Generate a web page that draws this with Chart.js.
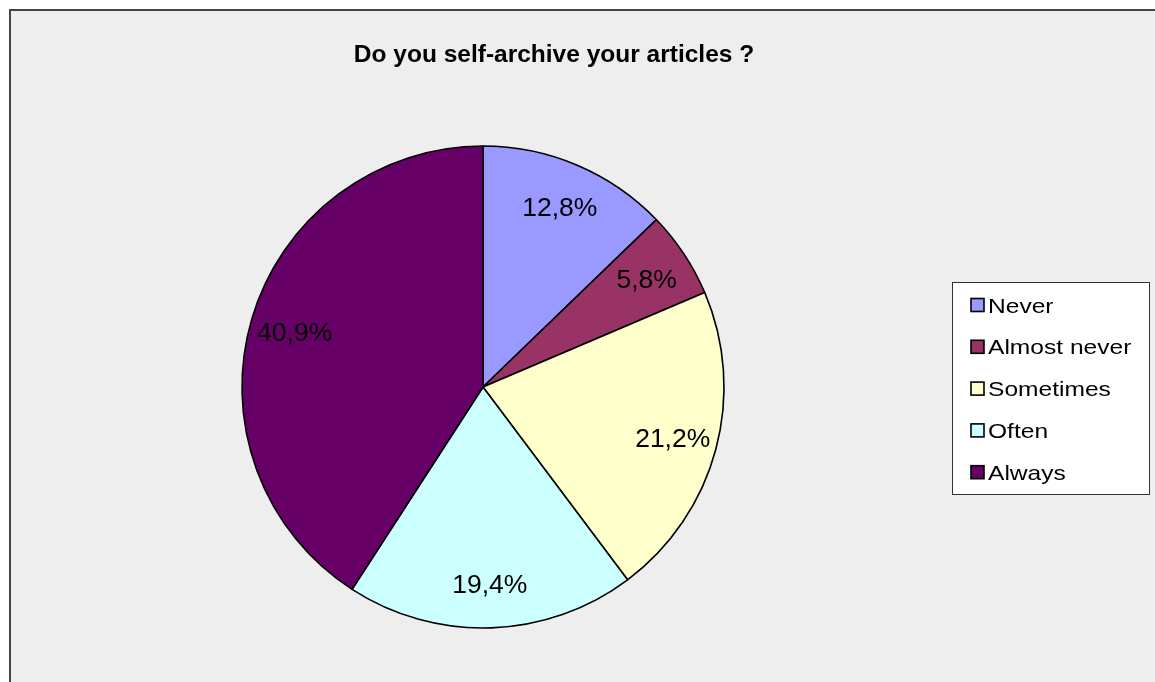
<!DOCTYPE html>
<html>
<head>
<meta charset="utf-8">
<title>Do you self-archive your articles ?</title>
<script src="https://cdn.jsdelivr.net/npm/chart.js@4/dist/chart.umd.min.js"></script>
<style>
  html, body { margin: 0; padding: 0; background: #ffffff; }
  #wrap { width: 1155px; height: 682px; position: relative; }
  canvas { display: block; }
</style>
</head>
<body>
<div id="wrap"><canvas id="pie" width="1155" height="682"></canvas></div>
<script>
// Survey answers (% of respondents)
const categories = ['Never', 'Almost never', 'Sometimes', 'Often', 'Always'];
const shares = [12.8, 5.8, 21.2, 19.4, 40.9];
const sliceColors = ['#9999ff', '#993366', '#ffffcc', '#ccffff', '#660066'];
const chartTitle = 'Do you self-archive your articles ?';

const FONT = '"Liberation Sans", Arial, Helvetica, sans-serif';

function pctText(v) {
  return v.toFixed(1).replace('.', ',') + '%';
}

// Grey panel with a dark frame on the top and left edges
const panelBackground = {
  id: 'panelBackground',
  beforeDraw(chart) {
    const ctx = chart.ctx;
    ctx.save();
    ctx.fillStyle = '#ffffff';
    ctx.fillRect(0, 0, chart.width, chart.height);
    ctx.fillStyle = '#eeeeee';
    ctx.fillRect(10, 10, chart.width - 10, chart.height - 10);
    ctx.strokeStyle = '#444444';
    ctx.lineWidth = 2;
    ctx.beginPath();
    ctx.moveTo(10, chart.height);
    ctx.lineTo(10, 10);
    ctx.lineTo(chart.width, 10);
    ctx.stroke();
    ctx.restore();
  }
};

// Percentage labels placed inside each slice
const sliceLabels = {
  id: 'sliceLabels',
  afterDatasetsDraw(chart) {
    const ctx = chart.ctx;
    const meta = chart.getDatasetMeta(0);
    const values = chart.data.datasets[0].data;
    ctx.save();
    ctx.font = '26.5px ' + FONT;
    ctx.fillStyle = '#000000';
    ctx.textAlign = 'center';
    ctx.textBaseline = 'alphabetic';
    meta.data.forEach((arc, i) => {
      const p = arc.getProps(['x', 'y', 'startAngle', 'endAngle', 'outerRadius'], true);
      const mid = (p.startAngle + p.endAngle) / 2;
      const r = p.outerRadius * 0.815;
      const x = p.x + Math.cos(mid) * r;
      const y = p.y + Math.sin(mid) * r;
      ctx.fillText(pctText(values[i]), x, y + 9.5);
    });
    ctx.restore();
  }
};

// Title and boxed legend on the right
const titleAndLegend = {
  id: 'titleAndLegend',
  afterDraw(chart) {
    const ctx = chart.ctx;
    ctx.save();
    ctx.fillStyle = '#000000';
    ctx.font = 'bold 24.5px ' + FONT;
    ctx.textAlign = 'center';
    ctx.textBaseline = 'alphabetic';
    ctx.fillText(chartTitle, 554, 62);

    // legend box
    const bx = 952, by = 282, bw = 197, bh = 212;
    ctx.fillStyle = '#ffffff';
    ctx.fillRect(bx, by, bw, bh);
    ctx.strokeStyle = '#333333';
    ctx.lineWidth = 1;
    ctx.strokeRect(bx + 0.5, by + 0.5, bw, bh);

    const colors = chart.data.datasets[0].backgroundColor;
    ctx.textAlign = 'left';
    chart.data.labels.forEach((label, i) => {
      const cy = 305 + i * 41.8;
      ctx.fillStyle = colors[i];
      ctx.fillRect(971, cy - 6.5, 13, 13);
      ctx.strokeStyle = '#000000';
      ctx.lineWidth = 1.6;
      ctx.strokeRect(971, cy - 6.5, 13, 13);
      // legend text is drawn slightly widened
      ctx.save();
      ctx.translate(988, cy + 7.5);
      ctx.scale(1.17, 1);
      ctx.font = '21px ' + FONT;
      ctx.fillStyle = '#000000';
      ctx.fillText(label, 0, 0);
      ctx.restore();
    });
    ctx.restore();
  }
};

new Chart(document.getElementById('pie'), {
  type: 'pie',
  data: {
    labels: categories,
    datasets: [{
      data: shares,
      backgroundColor: sliceColors,
      borderColor: '#000000',
      borderWidth: 1.6
    }]
  },
  options: {
    responsive: false,
    animation: false,
    radius: 241,
    layout: { padding: { left: 242, right: 431, top: 146, bottom: 54 } },
    plugins: {
      legend: { display: false },
      title: { display: false },
      tooltip: { enabled: false }
    }
  },
  plugins: [panelBackground, sliceLabels, titleAndLegend]
});
</script>
</body>
</html>
